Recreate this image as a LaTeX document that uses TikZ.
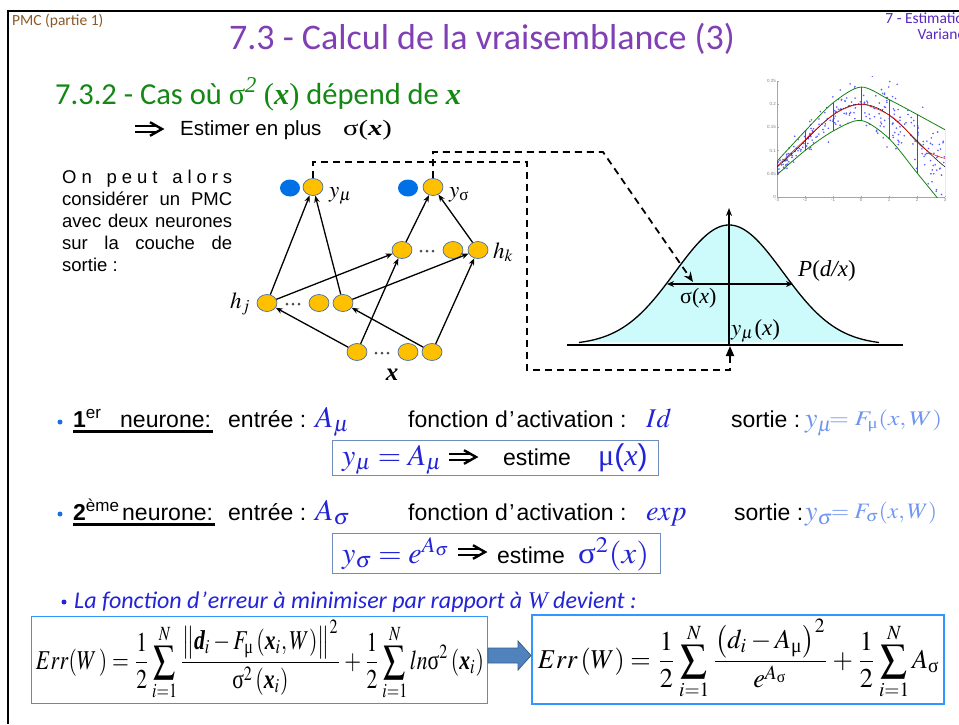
\documentclass[tikz,border=0pt]{standalone}
\usepackage{amsmath}
\usepackage{mathptmx}
\usepackage[no-math]{fontspec}
\setmainfont{Liberation Sans}
\newfontfamily\calib{Carlito}
\newfontfamily\tms{Liberation Serif}
\usepackage{graphicx}
\usetikzlibrary{arrows.meta,shapes.geometric}
\definecolor{brownc}{RGB}{140,90,40}
\definecolor{titlec}{RGB}{128,64,180}
\definecolor{topr}{RGB}{90,40,190}
\definecolor{greenc}{RGB}{20,135,20}
\definecolor{mblue}{RGB}{35,35,215}
\definecolor{lblue}{RGB}{110,150,240}
\definecolor{bullc}{RGB}{30,110,220}
\definecolor{neury}{RGB}{255,192,0}
\definecolor{neurb}{RGB}{0,112,230}
\definecolor{neuro}{RGB}{70,110,170}
\definecolor{gfill}{RGB}{205,250,250}
\definecolor{boxc}{RGB}{50,150,255}
\definecolor{boxg}{RGB}{110,140,190}
\definecolor{arrf}{RGB}{80,130,190}
\definecolor{arro}{RGB}{55,95,140}
\definecolor{dotc}{RGB}{90,90,255}
\definecolor{plg}{RGB}{20,130,20}
\newcommand\mygs{\text{\upshape\tms σ}}
\newcommand\mygm{\text{\upshape\tms μ}}
\newcommand\mybd{\text{\tms\bfseries\itshape d}}
\newcommand\mybx{\text{\tms\bfseries\itshape x}}
\newcommand\jline[1]{\makebox[170pt][s]{#1}}
\begin{document}
\begin{tikzpicture}[x=1pt,y=-1pt,
  ynode/.style={ellipse, draw=neuro, fill=neury, line width=0.7pt, minimum width=20pt, minimum height=17pt, inner sep=0pt},
  bnode/.style={ellipse, fill=neurb, minimum width=20pt, minimum height=17pt, inner sep=0pt},
  conn/.style={-{Stealth[length=7pt,width=5.5pt]}, line width=1.3pt},
  dline/.style={line width=1.8pt, dash pattern=on 7pt off 5pt},
  lbl/.style={inner sep=0pt, anchor=base west},
  body/.style={lbl, font=\fontsize{23}{27}\selectfont},
  para/.style={lbl, font=\fontsize{18.5}{21}\selectfont},
  mlbl/.style={lbl, font=\fontsize{23}{23}\selectfont},
  mbox/.style={lbl, text=mblue, font=\fontsize{30}{30}\selectfont},
  tbox/.style={draw=boxg, line width=0.8pt, inner sep=0pt},
  tick/.style={inner sep=1pt, font=\fontsize{4.5}{5}\selectfont, text=gray},
  implarrow/.pic={
    \draw[line width=2.2pt] (0,-2.9) -- (21,-2.9) (0,2.9) -- (21,2.9);
    \draw[line width=2.4pt, line join=miter, miter limit=10] (15,-6.8) -- (27,0) -- (15,6.8);
  }]
\useasboundingbox (0,0) rectangle (959,724);
\fill[white] (0,0) rectangle (959,724);
% frame
\draw[line width=2pt] (7.5,724) -- (7.5,10.5) -- (959,10.5);
% headers
\node[lbl, text=brownc, font=\calib\fontsize{15.5}{16}\selectfont] (hdr) at (12,25) {PMC (partie 1)};
\node[inner sep=0pt, anchor=base, text=titlec, font=\calib\fontsize{36}{36}\selectfont] (title) at (482,49) {7.3 - Calcul de la vraisemblance (3)};
\begin{scope}
\clip (0,0) rectangle (959,724);
\node[inner sep=0pt, anchor=base east, text=topr, font=\calib\fontsize{15.5}{16}\selectfont] (sec1) at (972,23) {7 - Estimation};
\node[inner sep=0pt, anchor=base east, text=topr, font=\calib\fontsize{15.5}{16}\selectfont] (sec2) at (972,39) {Variance};
\end{scope}
\node[lbl, text=greenc, font=\calib\fontsize{30.5}{31}\selectfont] (head) at (55,104)
  {7.3.2 - Cas où {\tms σ\textsuperscript{\itshape 2}} {\tms(\textbf{\textit{x}})} dépend de {\tms\bfseries\itshape x}};
\pic at (135,129) {implarrow};
\node[lbl, font=\fontsize{20.5}{21}\selectfont] (estim) at (180,135) {Estimer en plus};
\node[lbl, font=\fontsize{22}{22}\selectfont] (estsig) at (343,135) {\scalebox{1.3}[1]{\tms σ(\textbf{\textit{x}})}};
% paragraph
\node[para] (p1) at (62,183) {\makebox[170pt][l]{O\hfill n\hfill\hfill\hfill p\hfill e\hfill u\hfill t\hfill\hfill\hfill a\hfill l\hfill o\hfill r\hfill s}};
\node[para] (p2) at (62,205) {\jline{considérer un PMC}};
\node[para] (p3) at (62,227) {\jline{avec deux neurones}};
\node[para] (p4) at (62,249) {\jline{sur la couche de}};
\node[para] (p5) at (62,271) {sortie :};
% network
\node[bnode] (b1) at (290,188) {};
\node[ynode] (ymu) at (313,187) {};
\node[bnode] (b2) at (408,188) {};
\node[ynode] (ysig) at (433,187) {};
\node[ynode] (k1) at (402,250) {};
\node[ynode] (k2) at (453,250) {};
\node[ynode] (k3) at (478,250) {};
\node[ynode] (j1) at (267,303) {};
\node[ynode] (j2) at (319,303) {};
\node[ynode] (j3) at (343,303) {};
\node[ynode] (x1) at (357,352) {};
\node[ynode] (x2) at (408,352) {};
\node[ynode] (x3) at (432,352) {};
\foreach \cx/\cy in {421/251, 427/251, 433/251, 287/304, 293/304, 299/304, 376/353, 382/353, 388/353}
  \fill[black!70] (\cx,\cy) circle (1.5pt);
\draw[conn] (j1) -- (ymu);
\draw[conn] (j3) -- (ymu);
\draw[conn] (j1) -- (k1);
\draw[conn] (j3) -- (k3);
\draw[conn] (x1) -- (j1);
\draw[conn] (x1) -- (k1);
\draw[conn] (x3) -- (j3);
\draw[conn] (x3) -- (k3);
\draw[conn] (k1) -- (ysig);
\draw[conn] (k3) -- (ysig);
\node[mlbl] (lymu) at (329,197) {$y_{\mu}$};
\node[mlbl] (lysig) at (449,197) {$y_{\mygs}$};
\node[mlbl] (lhk) at (493,258) {$h_{k}$};
\node[mlbl] (lhj) at (230,308) {$h_{j}$};
\node[inner sep=0pt, anchor=base, font=\fontsize{25}{25}\selectfont] (lx) at (392,380) {\tms\bfseries\itshape x};
% dashed links
\coordinate (d1) at (313,162);
\coordinate (d2) at (527,162);
\coordinate (d3) at (527,370);
\coordinate (d4) at (730,370);
\coordinate (d5) at (730,346);
\coordinate (e1) at (433,152);
\coordinate (e2) at (603,152);
\coordinate (e3) at (693,282);
% gaussian
\fill[gfill] plot[domain=-150:150, samples=121] ({729+\x},{345-120*exp(-(\x/54)*(\x/54)/2)}) -- cycle;
\draw[line width=1.3pt] plot[domain=-150:150, samples=121] ({729+\x},{345-120*exp(-(\x/54)*(\x/54)/2)});
\draw[line width=1.5pt] (567,345) -- (903,345);
\draw[line width=1.3pt, -{Stealth[length=8pt,width=6pt]}] (729,345) -- (729,208);
\draw[line width=1.3pt, {Stealth[length=7pt,width=6pt]}-{Stealth[length=7pt,width=6pt]}] (667,284) -- (793,284);
\node[lbl, font=\fontsize{22}{22}\selectfont] (lsig) at (680,303) {\tms σ(\textit{x})};
\node[lbl, font=\fontsize{23}{23}\selectfont] (lp) at (798,276) {{\tms\itshape P}{\tms(}{\tms\itshape d/x}{\tms)}};
\node[lbl, font=\fontsize{23}{23}\selectfont] (lym) at (731,335) {$y_{\mu}$\kern1pt{\tms(\textit{x})}};
\draw[dline, -{Triangle[length=10pt,width=8pt]}] (ymu.north) -- (d1) -- (d2) -- (d3) -- (d4) -- (d5);
\draw[dline, -{Stealth[length=10pt,width=8pt]}] (ysig.north) -- (e1) -- (e2) -- (e3);
% scatter plot
\begin{scope}[shift={(861,197)}, x=28pt, y=464pt]
  \draw[gray!70, line width=0.4pt] (-3,0.25) -- (-3,0) -- (3,0);
  \foreach \v in {0,0.05,0.1,0.15,0.2,0.25} {
    \draw[gray!70, line width=0.3pt] (-3,\v) -- ++(1.5pt,0);
    \node[tick, anchor=east] at (-3,\v) {\v};
  }
  \foreach \v in {-3,-2,-1,0,1,2,3} {
    \draw[gray!70, line width=0.3pt] (\v,0) -- ++(0,1.5pt);
    \node[tick, anchor=north] at (\v,0) {\v};
  }
  \begin{scope}
  \clip (-3,0) rectangle (3,0.26);
  \pgfmathsetseed{12345}
  \foreach \i in {1,...,260} {
    \pgfmathsetmacro\xv{3*rand}
    \pgfmathsetmacro\nz{rand+rand+rand}
    \pgfmathsetmacro\yv{0.2*exp(-(\xv)*(\xv)/8)+(0.008+0.0065*(\xv+3))*\nz}
    \fill[dotc] (\xv,\yv) circle (0.9pt);
  }
  \draw[plg, line width=0.8pt] plot[smooth] coordinates {(-3,0.077) (-2,0.142) (-1,0.203) (0,0.237) (1,0.21) (2,0.178) (3,0.145)};
  \draw[plg, line width=0.8pt] plot[smooth] coordinates {(-3,0.048) (-2,0.1) (-1,0.142) (0,0.165) (1,0.126) (2,0.052) (2.7,0) (2.8,-0.01)};
  \foreach \a/\lo/\hi in {-3/0.048/0.077, -2/0.1/0.142, -1/0.142/0.203, 0/0.165/0.237, 1/0.126/0.21, 2/0.052/0.178, 3/0/0.145}
    \draw[plg, line width=0.8pt] (\a,\lo) -- (\a,\hi);
  \draw[black, line width=0.5pt] plot[domain=-3:3, samples=60] (\x,{0.2*exp(-(\x)*(\x)/8)});
  \draw[red, line width=0.5pt] plot[smooth] coordinates {(-3,0.066) (-2,0.123) (-1,0.177) (0,0.2) (1,0.177) (1.5,0.152) (2,0.118) (2.5,0.094) (3,0.083)};
  \end{scope}
\end{scope}
% bullet 1
\fill[bullc] (60,422) circle (2.5pt);
\node[body] (n1a) at (73,427) {\textbf{1}\textsuperscript{er}};
\node[body] (n1b) at (120,427) {neurone:};
\draw[line width=2.7pt] (73,431.5) -- (213,431.5);
\node[body] (n1c) at (228,427) {entrée :};
\node[lbl, text=mblue, font=\fontsize{30}{30}\selectfont] (n1d) at (315,427) {$A_{\mu}$};
\node[body] (n1e) at (408,427) {fonction d\kern1.5pt’\kern2pt activation :};
\node[lbl, text=mblue, font=\fontsize{27}{27}\selectfont] (n1f) at (646,427) {$Id$};
\node[body] (n1g) at (731,427) {sortie :};
\node[lbl, text=lblue, font=\fontsize{28}{28}\selectfont] (n1h) at (805,427) {$y_{\mu}$};
\node[lbl, text=lblue, font=\fontsize{20}{20}\selectfont] (n1i) at (829,425) {\resizebox*{113pt}{22pt}{$=F_{\mygm}(x,W)$}};
\node[tbox, minimum width=326pt, minimum height=35pt] (box1) at (495,457.5) {};
\node[mbox] (b1t1) at (342,465) {$y_{\mu}=A_{\mu}$};
\pic at (449,457) {implarrow};
\node[body] (b1t3) at (503,465) {estime};
\node[mbox] (b1t4) at (598,465) {{\tms μ}({\tms\itshape x})};
% bullet 2
\fill[bullc] (60,514) circle (2.5pt);
\node[body] (n2a) at (73,520) {\textbf{2}\textsuperscript{ème}};
\node[body] (n2b) at (122,520) {neurone:};
\draw[line width=2.7pt] (73,524.5) -- (215,524.5);
\node[body] (n2c) at (228,520) {entrée :};
\node[lbl, text=mblue, font=\fontsize{30}{30}\selectfont] (n2d) at (315,520) {$A_{\sigma}$};
\node[body] (n2e) at (408,520) {fonction d\kern1.5pt’\kern2pt activation :};
\node[lbl, text=mblue, font=\fontsize{28}{28}\selectfont] (n2f) at (646,520) {$exp$};
\node[body] (n2g) at (734,520) {sortie :};
\node[lbl, text=lblue, font=\fontsize{28}{28}\selectfont] (n2h) at (805,520) {$y_{\sigma}$};
\node[lbl, text=lblue, font=\fontsize{20}{20}\selectfont] (n2i) at (831,518) {\resizebox*{106pt}{22pt}{$=F_{\sigma}(x,W)$}};
\node[tbox, minimum width=328pt, minimum height=40pt] (box2) at (496,553) {};
\node[mbox] (b2t1) at (342,563) {$y_{\sigma}=e^{A_{\sigma}}$};
\pic at (458,552) {implarrow};
\node[body] (b2t3) at (497,563) {estime};
\node[mbox] (b2t4) at (578,563) {\scalebox{1.1}[1]{$\mygs^{2}(x)$}};
% error function
\fill[mblue] (64,602) circle (2.5pt);
\node[lbl, text=mblue, font=\calib\itshape\fontsize{24}{24}\selectfont] (errl) at (74,608)
  {La fonction d\kern1.5pt’\kern1pt erreur à minimiser par rapport à {\tms W} devient :};
\draw[boxc, line width=0.9pt] (31,616) rectangle (487,703);
\draw[boxc, line width=2pt] (532,615) rectangle (944,704);
\node[inner sep=0pt] (f1) at (260,660.5)
  {\resizebox*{448pt}{80pt}{$\displaystyle Err(W\,)=\frac{1}{2}\sum_{i=1}^{N}\frac{\left\|\mybd_{i}-F_{\mygm}\left(\mybx_{i},W\right)\right\|^{2}}{\mygs^{2}\left(\mybx_{i}\right)}+\frac{1}{2}\sum_{i=1}^{N}ln\mygs^{2}\left(\mybx_{i}\right)$}};
\node[inner sep=0pt] (f2) at (739,659.5)
  {\resizebox*{402pt}{80pt}{$\displaystyle Err\left(W\right)=\frac{1}{2}\sum_{i=1}^{N}\frac{\left(d_{i}-A_{\mygm}\right)^{2}}{e^{A_{\mygs}}}+\frac{1}{2}\sum_{i=1}^{N}A_{\mygs}$}};
\filldraw[fill=arrf, draw=arro, line width=0.8pt] (488,648) -- (518,648) -- (518,641) -- (531,655.5) -- (518,670) -- (518,663) -- (488,663) -- cycle;
\end{tikzpicture}
\end{document}
